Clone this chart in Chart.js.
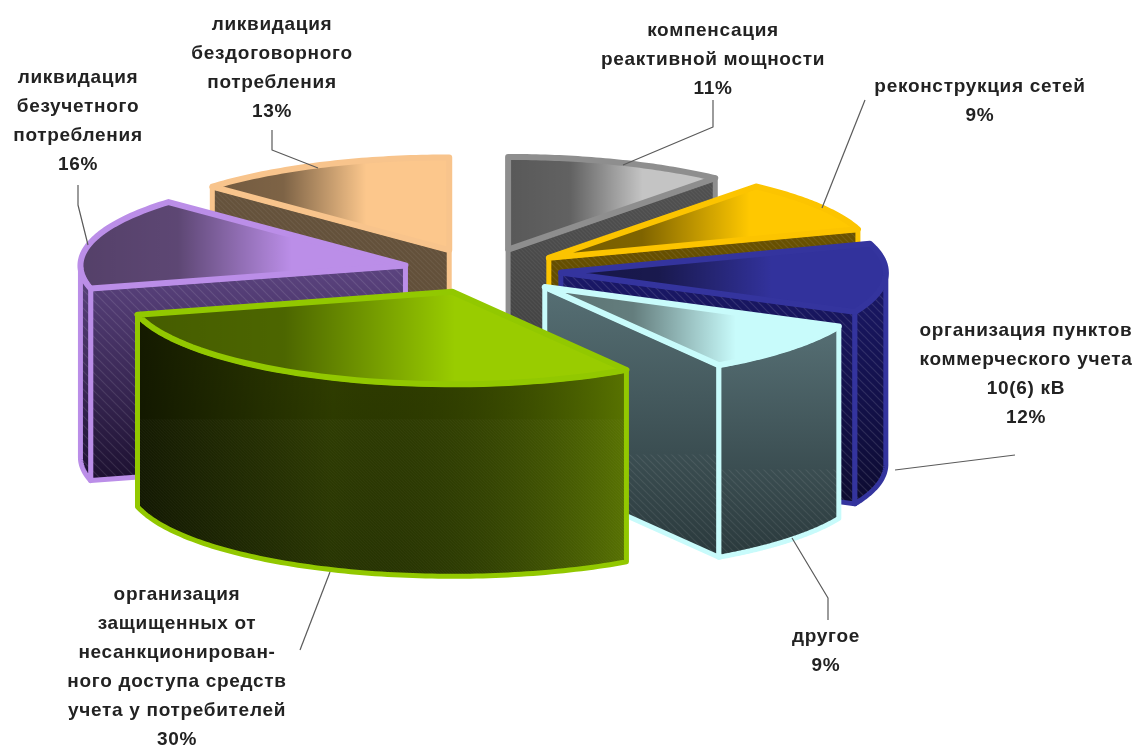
<!DOCTYPE html>
<html lang="ru">
<head>
<meta charset="utf-8">
<title>Структура мероприятий</title>
<script src="https://cdn.jsdelivr.net/npm/chart.js@4"></script>
<style>
  html, body { margin: 0; background: #fff; }
  #wrap { width: 1136px; height: 745px; }
  #pieChart { filter: blur(0.6px); }
</style>
</head>
<body>
<div id="wrap"><canvas id="pieChart"></canvas></div>
<script>
// clockwise from 12 o'clock
const categories = [
  'компенсация реактивной мощности',
  'реконструкция сетей',
  'организация пунктов коммерческого учета 10(6) кВ',
  'другое',
  'организация защищенных от несанкционированного доступа средств учета у потребителей',
  'ликвидация безучетного потребления',
  'ликвидация бездоговорного потребления'
];
const shares = [11, 9, 12, 9, 30, 16, 13];

// label wrapping, same order as categories
const labelLines = [
  ['компенсация', 'реактивной мощности'],
  ['реконструкция сетей'],
  ['организация пунктов', 'коммерческого учета', '10(6) кВ'],
  ['другое'],
  ['организация', 'защищенных от', 'несанкционирован-', 'ного доступа средств', 'учета у потребителей'],
  ['ликвидация', 'безучетного', 'потребления'],
  ['ликвидация', 'бездоговорного', 'потребления']
];
const labelX = [713, 980, 1026, 826, 177, 78, 272];
const labelY = [31, 87, 331, 637, 595, 78, 25];
const leaders = [
  [[713, 100], [713, 127], [623, 165]],
  [[865, 100], [822, 208]],
  [[1015, 455], [895, 470]],
  [[828, 620], [828, 598], [792, 538]],
  [[300, 650], [330, 572]],
  [[78, 185], [78, 205], [88, 245]],
  [[272, 130], [272, 150], [318, 168]]
];

// styling per slice
const faceColors = ['#c4c4c4', '#ffc800', '#32329c', '#c8fbfb', '#99cc00', '#bb8ee8', '#fcc78c'];
const edgeColors = ['#8e8e8e', '#fcc400', '#34349e', '#c8fbfb', '#92c800', '#bb8ee8', '#f8c48c'];
const wallTop = ['#505050', '#6a5200', '#1a1868', '#566f74', '#3a4a00', '#5c4480', '#66533c'];
const wallBottom = ['#3a3a3a', '#4a3a00', '#0d0b30', '#2a393c', '#2c3c00', '#1c1030', '#5c4a36'];
const explode = [80, 82, 80, 85, 78, 78, 80];
const drawOrder = [6, 0, 1, 5, 2, 3, 4];
const hatchFrom = [0, 0, 0, 0.62, 0.4, 0, 0];
const hatchStep = [4, 6, 8, 7, 3, 9, 5];
const hatchAlpha = [0.06, 0.08, 0.12, 0.08, 0.04, 0.1, 0.06];

const centerX = 481, centerY = 271, tilt = 0.285, depth = 192;

function hatch(step, alpha) {
  const c = document.createElement('canvas');
  c.width = c.height = step;
  const g = c.getContext('2d');
  g.strokeStyle = 'rgba(255,255,255,' + alpha + ')';
  g.lineWidth = 1.2;
  g.beginPath();
  g.moveTo(-1, -1); g.lineTo(step + 1, step + 1);
  g.moveTo(-1, step - 1); g.lineTo(1, step + 1);
  g.moveTo(step - 1, -1); g.lineTo(step + 1, 1);
  g.stroke();
  return c;
}

function tracePath(ctx, pts, close) {
  ctx.beginPath();
  pts.forEach((p, i) => i ? ctx.lineTo(p[0], p[1]) : ctx.moveTo(p[0], p[1]));
  if (close) ctx.closePath();
}

const pie3d = {
  id: 'pie3d',
  beforeDatasetDraw(chart) {
    const ctx = chart.ctx;
    const arcs = chart.getDatasetMeta(0).data;
    drawOrder.forEach(i => drawSlice(ctx, arcs[i], i));
    return false;
  },
  afterDraw(chart) {
    const ctx = chart.ctx;
    ctx.save();
    ctx.strokeStyle = '#5a5a5a';
    ctx.lineWidth = 1.2;
    leaders.forEach(l => { tracePath(ctx, l, false); ctx.stroke(); });
    ctx.fillStyle = '#222';
    ctx.font = 'bold 19px "Liberation Sans"';
    ctx.textAlign = 'center';
    ctx.textBaseline = 'middle';
    ctx.letterSpacing = '0.7px';
    shares.forEach((v, i) => {
      labelLines[i].concat(v + '%').forEach((t, n) => {
        ctx.fillText(t, labelX[i], labelY[i] + n * 29);
      });
    });
    ctx.restore();
  }
};

function drawSlice(ctx, arc, i) {
  const { x, y, startAngle: a, endAngle: b, outerRadius: r } = arc.getProps(['x', 'y', 'startAngle', 'endAngle', 'outerRadius']);
  const mid = (a + b) / 2;
  const ax = centerX + Math.cos(mid) * explode[i];
  const ay = centerY + Math.sin(mid) * explode[i] * tilt;
  const rim = t => [ax + Math.cos(t) * r, ay + Math.sin(t) * r * tilt];
  const down = p => [p[0], p[1] + depth];

  const rimPts = [];
  for (let k = 0; k <= 48; k++) rimPts.push(rim(a + (b - a) * k / 48));

  // walls that face the viewer
  const faces = [];
  if (Math.cos(a) < -0.001) faces.push([[ax, ay], rim(a), down(rim(a)), [ax, ay + depth]]);
  if (Math.cos(b) > 0.001) faces.push([[ax, ay], rim(b), down(rim(b)), [ax, ay + depth]]);
  const front = [];
  for (let k = 0; k <= 96; k++) {
    const t = a + (b - a) * k / 96;
    if (Math.sin(t) >= 0) front.push(rim(t));
  }
  if (front.length > 1) faces.push(front.concat(front.slice().reverse().map(down)));

  faces.forEach(f => {
    const ys = f.map(p => p[1]), xs = f.map(p => p[0]);
    const top = Math.min(...ys), bottom = Math.max(...ys);
    const left = Math.min(...xs), right = Math.max(...xs);
    const grad = ctx.createLinearGradient(0, top, 0, bottom);
    grad.addColorStop(0, wallTop[i]);
    grad.addColorStop(1, wallBottom[i]);
    ctx.save();
    tracePath(ctx, f, true);
    ctx.fillStyle = grad;
    ctx.fill();
    ctx.clip();
    if (i === 4) {
      // big green wall: near black on the left, olive towards the right
      const side = ctx.createLinearGradient(left, 0, right, 0);
      side.addColorStop(0, 'rgba(0,0,0,0.65)');
      side.addColorStop(0.4, 'rgba(0,0,0,0.15)');
      side.addColorStop(1, 'rgba(100,130,0,0.75)');
      ctx.fillStyle = side;
      ctx.fillRect(left, top, right - left, bottom - top);
    }
    ctx.fillStyle = ctx.createPattern(hatch(hatchStep[i], hatchAlpha[i]), 'repeat');
    const hy = top + (bottom - top) * hatchFrom[i];
    ctx.fillRect(left, hy, right - left, bottom - hy);
    ctx.restore();
    tracePath(ctx, f, true);
    ctx.strokeStyle = edgeColors[i];
    ctx.lineWidth = 5;
    ctx.lineJoin = 'round';
    ctx.stroke();
  });

  // top face comes from the library's own arc element, moved out and squashed into the pie plane
  ctx.save();
  ctx.translate(ax, ay);
  ctx.scale(1, tilt);
  ctx.translate(-x, -y);
  arc.draw(ctx);
  ctx.restore();

  const outline = [[ax, ay]].concat(rimPts);
  const xs = outline.map(p => p[0]);
  const minX = Math.min(...xs), maxX = Math.max(...xs);
  const shade = ctx.createLinearGradient(minX, 0, maxX, 0);
  shade.addColorStop(0, 'rgba(0,0,0,0.55)');
  shade.addColorStop(0.3, 'rgba(0,0,0,0.5)');
  shade.addColorStop(0.65, 'rgba(0,0,0,0)');
  tracePath(ctx, outline, true);
  ctx.fillStyle = shade;
  ctx.fill();
  ctx.strokeStyle = edgeColors[i];
  ctx.lineWidth = 6;
  ctx.lineJoin = 'round';
  ctx.stroke();
}

new Chart(document.getElementById('pieChart').getContext('2d'), {
  type: 'pie',
  data: {
    labels: categories,
    datasets: [{
      data: shares,
      backgroundColor: faceColors,
      borderWidth: 0
    }]
  },
  options: {
    responsive: true,
    maintainAspectRatio: false,
    animation: false,
    radius: 325,
    plugins: {
      legend: { display: false },
      tooltip: { enabled: false }
    }
  },
  plugins: [pie3d]
});
</script>
</body>
</html>
